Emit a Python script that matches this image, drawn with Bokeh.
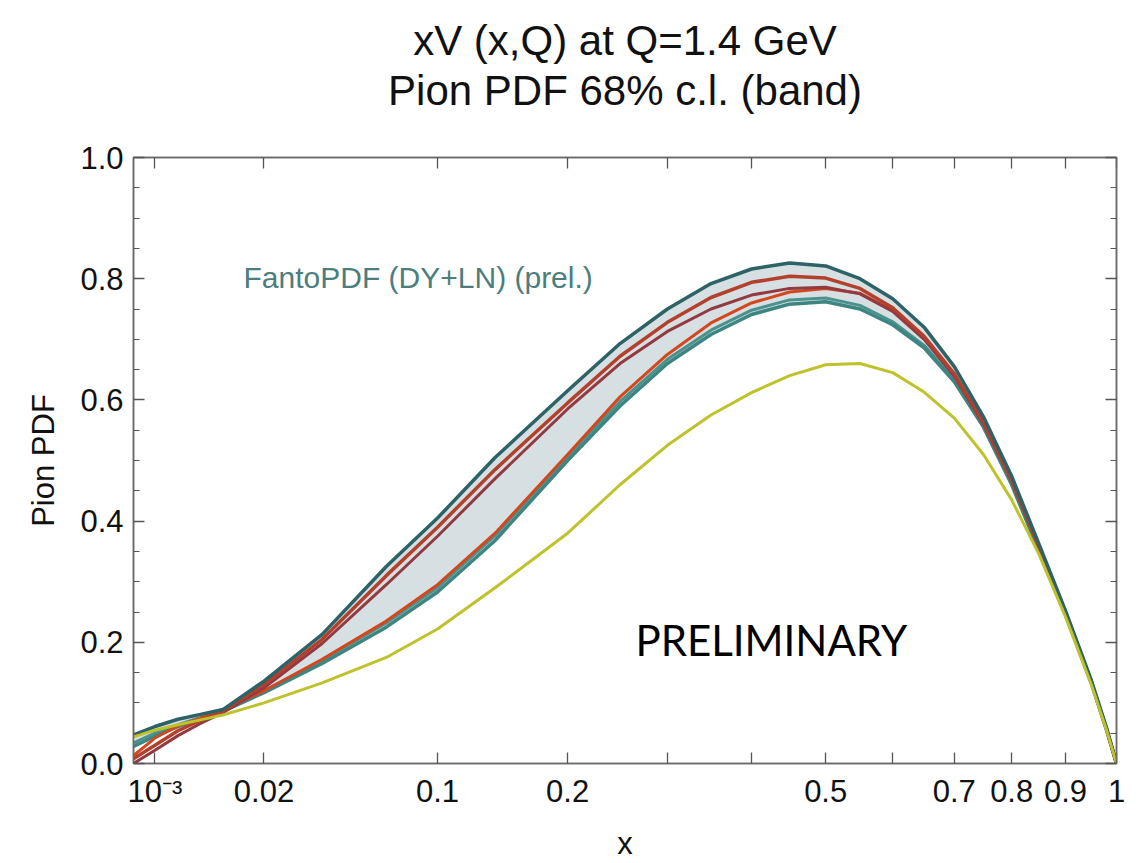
import numpy as np
from bokeh.plotting import figure
from bokeh.models import (ColumnDataSource, FixedTicker, SingleIntervalTicker, LinearAxis,
                          Range1d, Label, Title, CustomJSTickFormatter)
from bokeh.embed import file_html
from bokeh.resources import INLINE

# ---------------- data ----------------
x_grid = [1e-4, 1e-3, 0.003, 0.006, 0.01, 0.02, 0.04, 0.07, 0.1, 0.14, 0.2, 0.25, 0.3,
          0.35, 0.4, 0.45, 0.5, 0.55, 0.6, 0.65, 0.7, 0.75, 0.8, 0.85, 0.9, 0.95, 0.98, 1.0]

band_upper = [0.047, 0.061, 0.073, 0.081, 0.089, 0.136, 0.213, 0.325, 0.405, 0.505, 0.615, 0.693, 0.750,
              0.792, 0.816, 0.826, 0.821, 0.800, 0.767, 0.720, 0.655, 0.572, 0.474, 0.362, 0.252, 0.137, 0.059, 0.0]
band_lower = [0.028, 0.045, 0.061, 0.073, 0.086, 0.117, 0.165, 0.225, 0.283, 0.368, 0.500, 0.590, 0.660,
              0.708, 0.741, 0.758, 0.762, 0.750, 0.724, 0.686, 0.630, 0.555, 0.460, 0.350, 0.245, 0.132, 0.055, 0.0]
teal_mid = [0.034, 0.050, 0.064, 0.076, 0.088, 0.120, 0.170, 0.232, 0.290, 0.376, 0.507, 0.597, 0.667,
            0.715, 0.748, 0.765, 0.768, 0.756, 0.729, 0.690, 0.634, 0.558, 0.462, 0.352, 0.246, 0.133, 0.056, 0.0]

red_top = [0.008, 0.030, 0.054, 0.071, 0.087, 0.130, 0.205, 0.310, 0.390, 0.485, 0.595, 0.672, 0.728,
           0.769, 0.794, 0.804, 0.801, 0.784, 0.752, 0.705, 0.643, 0.563, 0.468, 0.358, 0.249, 0.135, 0.057, 0.0]
red_maroon = [0.000, 0.022, 0.046, 0.066, 0.084, 0.125, 0.198, 0.295, 0.375, 0.470, 0.585, 0.660, 0.713,
              0.750, 0.773, 0.784, 0.786, 0.775, 0.746, 0.700, 0.639, 0.560, 0.466, 0.357, 0.248, 0.134, 0.057, 0.0]
red_orange = [0.013, 0.042, 0.062, 0.075, 0.088, 0.120, 0.172, 0.235, 0.295, 0.380, 0.510, 0.605, 0.675,
              0.727, 0.760, 0.778, 0.784, 0.776, 0.748, 0.703, 0.641, 0.561, 0.466, 0.357, 0.248, 0.134, 0.057, 0.0]
yellow = [0.044, 0.055, 0.064, 0.072, 0.080, 0.100, 0.133, 0.175, 0.222, 0.290, 0.380, 0.460, 0.525,
          0.575, 0.612, 0.640, 0.658, 0.660, 0.645, 0.613, 0.570, 0.510, 0.435, 0.345, 0.242, 0.130, 0.055, 0.0]

x_tick_values = [0.001, 0.02, 0.1, 0.2, 0.3, 0.4, 0.5, 0.6, 0.7, 0.8, 0.9, 1.0]
x_tick_labels = ["10\u207b\u00b3", "0.02", "0.1", "0.2", "", "", "0.5", "", "0.7", "0.8", "0.9", "1"]

title_line1 = "xV (x,Q) at Q=1.4 GeV"
title_line2 = "Pion PDF 68% c.l. (band)"
fanto_text = "FantoPDF (DY+LN) (prel.)"
prelim_text = "PRELIMINARY"

# x axis drawn on a sqrt(x) scale
def sq(v):
    return np.sqrt(np.asarray(v, dtype=float))

s_grid = sq(x_grid)

FONT = "Liberation Sans"

p = figure(width=1138, height=863, output_backend="svg", toolbar_location=None,
           x_range=Range1d(0.01, 1.0), y_range=Range1d(0.0, 1.0),
           min_border_left=133, min_border_right=22, min_border_top=157, min_border_bottom=100,
           x_axis_type=None, y_axis_type=None)
p.grid.visible = False
p.outline_line_color = "#6a6a6a"
p.outline_line_width = 1.5
p.background_fill_color = "white"
p.border_fill_color = "white"

x_ticks_s = [float(v) for v in sq(x_tick_values)]
overrides = {s: lab for s, lab in zip(x_ticks_s, x_tick_labels)}

def style_axis(ax, labels=True):
    ax.axis_line_color = "#6a6a6a"
    ax.axis_line_width = 1.5
    ax.major_tick_line_color = "#555555"
    ax.minor_tick_line_color = "#555555"
    ax.major_tick_in = 11
    ax.major_tick_out = 0
    ax.minor_tick_in = 6
    ax.minor_tick_out = 0
    ax.major_tick_line_width = 1.3
    ax.minor_tick_line_width = 1.2
    ax.major_label_text_font = FONT
    ax.major_label_text_font_size = "31px"
    ax.major_label_text_color = "#111111"
    ax.axis_label_text_color = "#111111"
    if not labels:
        ax.formatter = CustomJSTickFormatter(code="return '';")
        ax.major_label_text_font_size = "2px"
        ax.major_label_standoff = 0

xb = LinearAxis(ticker=FixedTicker(ticks=x_ticks_s), axis_label="x",
                major_label_overrides=overrides)
style_axis(xb)
xb.minor_tick_line_color = None
xb.axis_label_text_font = FONT
xb.axis_label_text_font_size = "31px"
xb.axis_label_text_font_style = "normal"
xb.axis_label_standoff = 14
xb.major_label_standoff = 10
p.add_layout(xb, "below")

# top frame axis: its label carries the second title line
xt = LinearAxis(ticker=FixedTicker(ticks=x_ticks_s), axis_label=title_line2)
style_axis(xt, labels=False)
xt.minor_tick_line_color = None
xt.axis_label_text_font = FONT
xt.axis_label_text_font_size = "42px"
xt.axis_label_text_font_style = "normal"
xt.axis_label_standoff = 44
p.add_layout(xt, "above")

p.add_layout(Title(text=title_line1, align="center", text_font=FONT, text_font_size="42px",
                   text_font_style="normal", text_color="#111111", standoff=0), "above")

yl = LinearAxis(ticker=SingleIntervalTicker(interval=0.2, num_minor_ticks=4), axis_label="Pion PDF",
                formatter=CustomJSTickFormatter(code="return tick.toFixed(1);"))
style_axis(yl)
yl.axis_label_text_font = FONT
yl.axis_label_text_font_size = "31px"
yl.axis_label_text_font_style = "normal"
yl.axis_label_standoff = 16
yl.major_label_standoff = 10
p.add_layout(yl, "left")

yr = LinearAxis(ticker=SingleIntervalTicker(interval=0.2, num_minor_ticks=4))
style_axis(yr, labels=False)
p.add_layout(yr, "right")

# band and curves
src = ColumnDataSource(dict(s=s_grid, up=band_upper, lo=band_lower, mid=teal_mid,
                            r1=red_top, r2=red_maroon, r3=red_orange, yl=yellow))
p.varea(x="s", y1="lo", y2="up", source=src, fill_color="#D6DFE1", fill_alpha=1.0)

p.line("s", "mid", source=src, line_color="#4A928D", line_width=3)
p.line("s", "lo", source=src, line_color="#3C8582", line_width=3.5)
p.line("s", "r3", source=src, line_color="#D4471E", line_width=3)
p.line("s", "r2", source=src, line_color="#923A42", line_width=3)
p.line("s", "r1", source=src, line_color="#B3402C", line_width=3.5)
p.line("s", "up", source=src, line_color="#2D6266", line_width=3.5)
p.line("s", "yl", source=src, line_color="#BEC32B", line_width=3)

p.add_layout(Label(x=float(np.sqrt(0.0146)), y=0.802, text=fanto_text, text_font=FONT,
                   text_font_size="30px", text_color="#4B7E7C", text_baseline="middle"))
p.add_layout(Label(x=float(np.sqrt(0.2658)), y=0.203, text=prelim_text, text_font="Lato",
                   text_font_size="42px", text_color="#000000", text_baseline="alphabetic"))

open("out.html", "w").write(file_html(p, INLINE))
